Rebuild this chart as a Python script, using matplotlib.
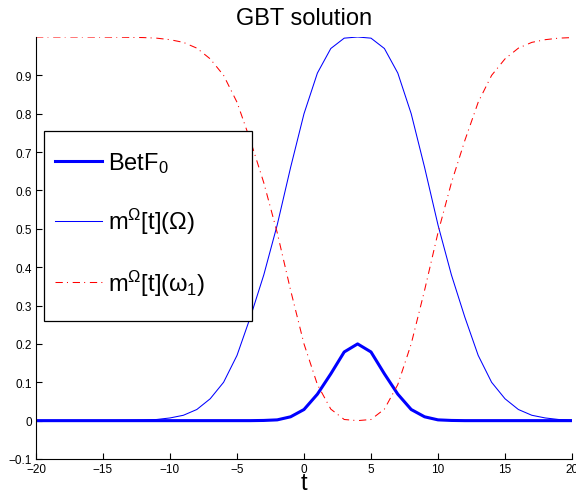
import matplotlib
matplotlib.use('Agg')
import matplotlib.pyplot as plt
from matplotlib.patches import Rectangle

plt.rcParams['font.family'] = ['Liberation Sans', 'DejaVu Sans']
plt.rcParams['mathtext.fontset'] = 'custom'
plt.rcParams['mathtext.rm'] = 'Liberation Sans'
plt.rcParams['mathtext.it'] = 'Liberation Sans'
plt.rcParams['mathtext.bf'] = 'Liberation Sans:bold'

# time grid
t = list(range(-20, 21))

# BetF_0 (thick line)
betf0 = [0, 0, 0, 0, 0, 0, 0, 0, 0, 0,
         0, 0, 0, 0, 0, 0, 0, 0.0005, 0.002, 0.01,
         0.029, 0.069, 0.122, 0.179, 0.20, 0.179, 0.122, 0.069, 0.029, 0.01,
         0.002, 0.0005, 0, 0, 0, 0, 0, 0, 0, 0, 0]

# m^Omega[t](Omega)
m_omega = [0, 0, 0, 0, 0.0001, 0.0002, 0.0004, 0.0008, 0.0015, 0.003,
           0.007, 0.014, 0.029, 0.057, 0.10, 0.17, 0.27, 0.38, 0.51, 0.66,
           0.80, 0.906, 0.97, 0.997, 1.0, 0.997, 0.97, 0.906, 0.80, 0.66,
           0.51, 0.38, 0.27, 0.17, 0.10, 0.057, 0.029, 0.014, 0.007, 0.003, 0.0015]

# m^Omega[t](omega_1)
m_w1 = [1.0, 1.0, 1.0, 1.0, 0.9999, 0.9998, 0.9996, 0.9992, 0.9985, 0.997,
        0.993, 0.986, 0.971, 0.943, 0.90, 0.83, 0.73, 0.62, 0.49, 0.34,
        0.20, 0.094, 0.03, 0.003, 0.0, 0.003, 0.03, 0.094, 0.20, 0.34,
        0.49, 0.62, 0.73, 0.83, 0.90, 0.943, 0.971, 0.986, 0.993, 0.997, 0.9985]

labels = ['BetF$_0$', 'm$^{\\Omega}$[t]($\\Omega$)', 'm$^{\\Omega}$[t]($\\omega_1$)']

fig = plt.figure(figsize=(5.76, 5.02), dpi=100)
ax = fig.add_axes([36/576, 42/502, 536/576, 422/502])

ax.plot(t, betf0, color='blue', linewidth=2.2, label=labels[0])
ax.plot(t, m_omega, color='blue', linewidth=0.75, label=labels[1])
ax.plot(t, m_w1, color='red', linewidth=0.75, dashes=(7, 4, 1, 4.5), label=labels[2])

ax.set_xlim(-20, 20)
ax.set_ylim(-0.1, 1.0)
ax.set_xticks(range(-20, 21, 5))
ax.set_yticks([-0.1, 0, 0.1, 0.2, 0.3, 0.4, 0.5, 0.6, 0.7, 0.8, 0.9])
ax.set_yticklabels(['\u22120.1', '0', '0.1', '0.2', '0.3', '0.4', '0.5', '0.6', '0.7', '0.8', '0.9'])
ax.set_xticklabels(['\u221220', '\u221215', '\u221210', '\u22125', '0', '5', '10', '15', '20'])
ax.tick_params(direction='in', length=4, width=0.8, labelsize=8.5, pad=3)
ax.spines['top'].set_visible(False)
ax.spines['right'].set_visible(False)
for s in ['left', 'bottom']:
    ax.spines[s].set_linewidth(0.8)

ax.set_title('GBT solution', fontsize=17, pad=9)
ax.set_xlabel('t', fontsize=17, labelpad=-2)

# legend box (MATLAB style: wide frame, extra room on the right)
frame = Rectangle((44/576, 1 - 322/502), 208/576, 190/502, transform=fig.transFigure,
                  facecolor='white', edgecolor='black', linewidth=0.9, zorder=4,
                  clip_on=False)
ax.add_patch(frame)
leg = ax.legend(loc='upper left', bbox_to_anchor=(44/576, 1 - 140.5/502),
                bbox_transform=fig.transFigure, borderaxespad=0, frameon=False,
                fontsize=17, handlelength=2.0, handletextpad=0.25,
                borderpad=0.45, labelspacing=1.32)
leg.set_zorder(5)

fig.savefig('out.png', dpi=100)
